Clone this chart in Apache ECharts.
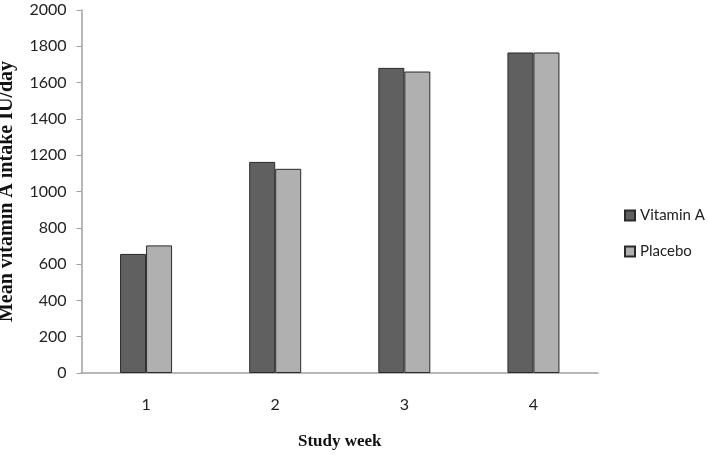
<!DOCTYPE html>
<html>
<head>
<meta charset="utf-8">
<script src="https://cdn.jsdelivr.net/npm/echarts@6/dist/echarts.min.js"></script>
<style>
html, body { margin: 0; padding: 0; background: #fff; }
#main { width: 709px; height: 455px; }
</style>
</head>
<body>
<div id="main"></div>
<script>
var weeks = ['1', '2', '3', '4'];
var vitaminA = [656, 1163, 1681, 1766];
var placebo = [703, 1125, 1661, 1766];

var myChart = echarts.init(document.getElementById('main'));
var labelFont = 'Lato';
var options = {
    animation: false,
    grid: { left: 81.5, right: 111, top: 10, bottom: 82, outerBoundsMode: 'none', containLabel: false },
    legend: {
        orient: 'vertical',
        left: 619,
        top: 203,
        itemWidth: 10,
        itemHeight: 10,
        itemGap: 21,
        icon: 'rect',
        textStyle: { fontFamily: labelFont, fontSize: 15, color: '#222' },
        data: ['Vitamin A', 'Placebo']
    },
    xAxis: {
        type: 'category',
        data: weeks,
        name: 'Study week',
        nameLocation: 'middle',
        nameGap: 60,
        nameTextStyle: { fontFamily: 'Liberation Serif', fontWeight: 'bold', fontSize: 17, color: '#111' },
        axisLine: { lineStyle: { color: '#a0a0a0', width: 1.5 } },
        axisTick: { show: false },
        axisLabel: { margin: 24, fontFamily: labelFont, fontSize: 16, color: '#222' }
    },
    yAxis: {
        type: 'value',
        min: 0,
        max: 2000,
        interval: 200,
        name: 'Mean vitamin A intake IU/day',
        nameLocation: 'middle',
        nameGap: 65,
        nameTextStyle: { fontFamily: 'Liberation Serif', fontWeight: 'bold', fontSize: 20, color: '#111' },
        axisLine: { show: true, lineStyle: { color: '#a0a0a0', width: 1.5 } },
        axisTick: { show: true, length: 5, lineStyle: { color: '#a0a0a0' } },
        splitLine: { show: false },
        axisLabel: {
            margin: 15, fontFamily: labelFont, fontSize: 16, color: '#222',
            formatter: function (v) { return String(v); }
        }
    },
    series: [{
        name: 'Vitamin A',
        type: 'bar',
        data: vitaminA,
        barWidth: 26,
        barGap: '0%',
        itemStyle: { color: '#606060', borderColor: '#2a2a2a', borderWidth: 1 }
    }, {
        name: 'Placebo',
        type: 'bar',
        data: placebo,
        barWidth: 26,
        itemStyle: { color: '#b0b0b0', borderColor: '#2a2a2a', borderWidth: 1 }
    }]
};
myChart.setOption(options);
</script>
</body>
</html>
